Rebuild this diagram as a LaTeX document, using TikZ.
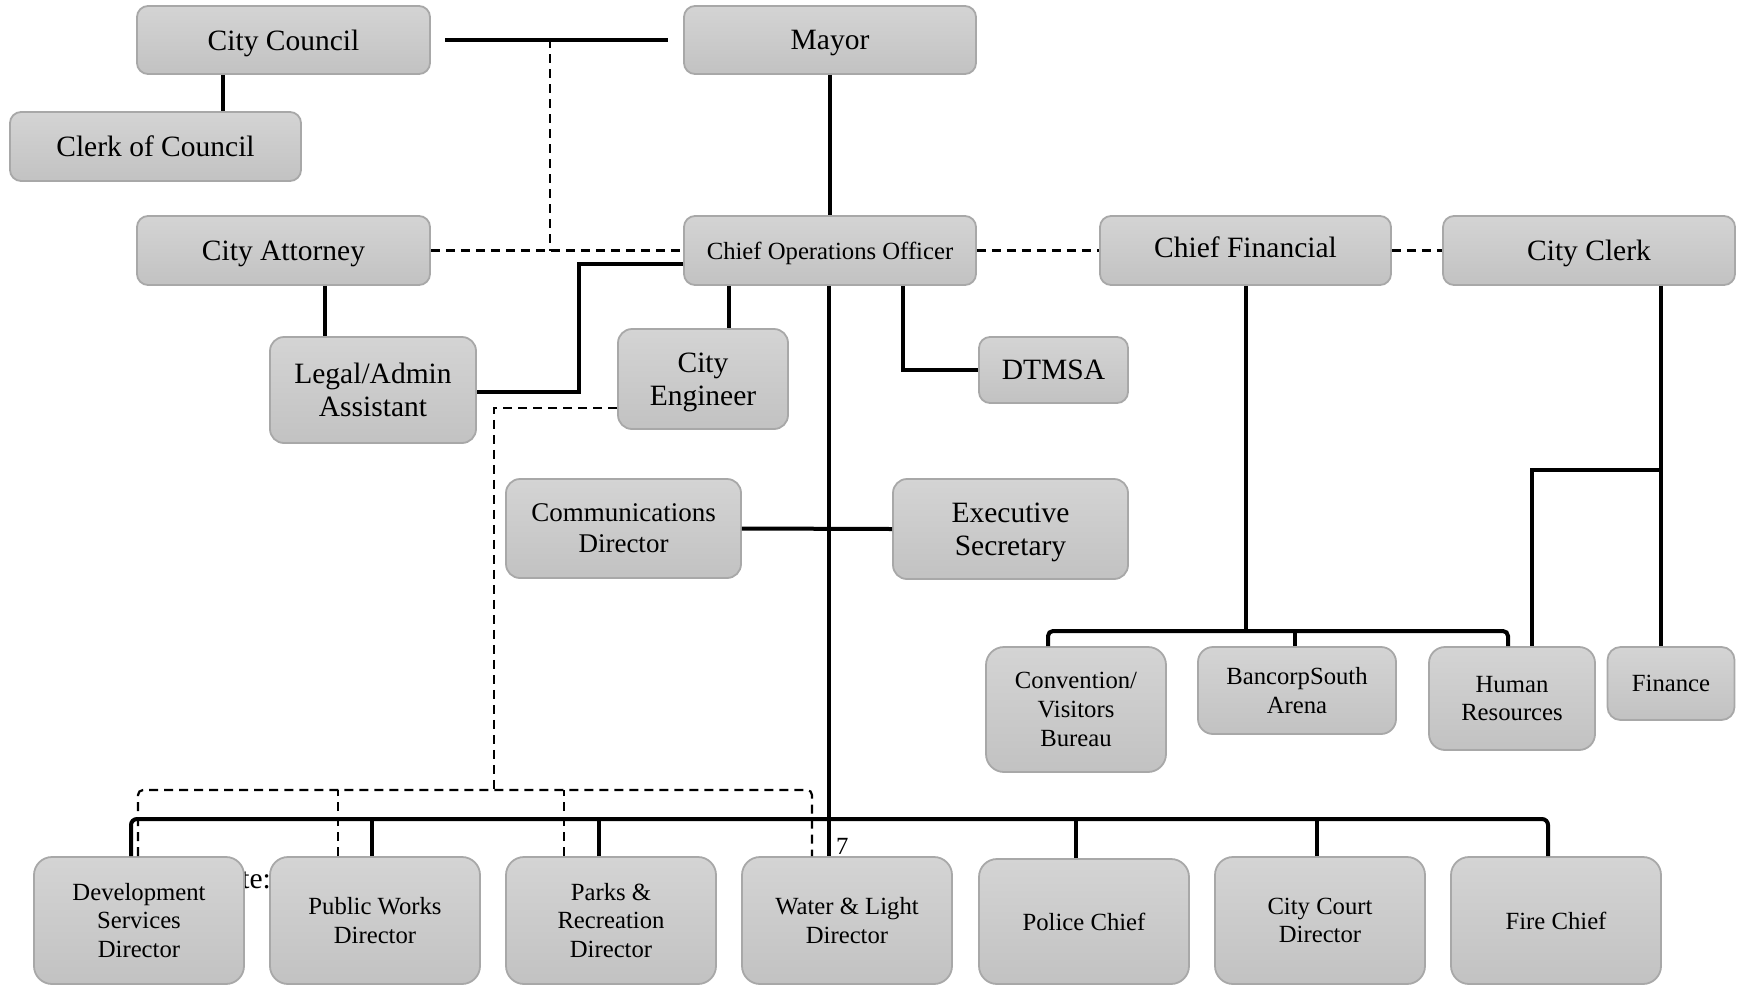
\documentclass[tikz,border=0pt]{standalone}
\usepackage{fontspec}
\setmainfont{Liberation Serif}
\usetikzlibrary{calc}

\definecolor{boxtop}{HTML}{D4D4D4}
\definecolor{boxbot}{HTML}{C2C2C2}
\definecolor{boxedge}{HTML}{A8A8A8}

\tikzset{
  orgbox/.style={draw=boxedge, line width=1.8pt, rounded corners=11pt, top color=boxtop, bottom color=boxbot, align=center, inner sep=0pt},
  bigtxt/.style={font=\fontsize{29.5}{33.5}\selectfont},
  midtxt/.style={font=\fontsize{27}{31}\selectfont},
  smalltxt/.style={font=\fontsize{24.7}{28.8}\selectfont},
  oneline/.style={text depth=0pt},
  link/.style={line width=4pt},
  dotlink/.style={line width=2.2pt, dash pattern=on 9pt off 6pt},
}

\begin{document}
\begin{tikzpicture}[x=1pt,y=1pt,yscale=-1,xscale=1]
\useasboundingbox (0,0) rectangle (1737,986);

% Text Node (left of public works, partly hidden)
\node[bigtxt, anchor=east, inner sep=0pt] (notetxt) at (271,880) {te:};
\node[smalltxt, anchor=west, inner sep=0pt] (pagenum) at (836,846) {7};

%Shape: top row
\node[orgbox,bigtxt,oneline,minimum width=293pt,minimum height=68pt] (council) at (283.5,40) {City Council};
\node[orgbox,bigtxt,oneline,minimum width=292pt,minimum height=68pt] (mayor) at (830,40) {Mayor};
\node[orgbox,bigtxt,oneline,minimum width=291pt,minimum height=69pt] (clerk) at (155.5,146.5) {Clerk of Council};

%Shape: second row
\node[orgbox,bigtxt,oneline,minimum width=293pt,minimum height=69pt] (attorney) at (283.5,250.5) {City Attorney};
\node[orgbox,smalltxt,oneline,minimum width=292pt,minimum height=69pt] (coo) at (830,250.5) {Chief Operations Officer};
\node[orgbox,bigtxt,minimum width=291pt,minimum height=69pt] (cfo) at (1245.5,250.5) {\raisebox{6pt}{Chief Financial}};
\node[orgbox,bigtxt,oneline,minimum width=292pt,minimum height=69pt] (cityclerk) at (1589,250.5) {City Clerk};

%Shape: under the coo
\node[orgbox,bigtxt,minimum width=206pt,minimum height=106pt,rounded corners=14pt] (legal) at (373,390) {Legal/Admin\\Assistant};
\node[orgbox,bigtxt,oneline,minimum width=170pt,minimum height=100pt,rounded corners=14pt] (engineer) at (703,379) {City\\Engineer};
\node[orgbox,bigtxt,oneline,minimum width=149pt,minimum height=66pt] (dtmsa) at (1053.5,370) {DTMSA};
\node[orgbox,midtxt,minimum width=235pt,minimum height=99pt,rounded corners=14pt] (comm) at (623.5,528.5) {Communications\\Director};
\node[orgbox,bigtxt,oneline,minimum width=235pt,minimum height=100pt,rounded corners=14pt] (exec) at (1010.5,529) {Executive\\Secretary};

%Shape: finance branch
\node[orgbox,smalltxt,minimum width=180pt,minimum height=125pt,rounded corners=18pt] (convention) at (1076,709.5) {Convention/\\Visitors\\Bureau};
\node[orgbox,smalltxt,minimum width=198pt,minimum height=87pt,rounded corners=15pt] (arena) at (1297,690.5) {BancorpSouth\\Arena};
\node[orgbox,smalltxt,minimum width=166pt,minimum height=103pt,rounded corners=16pt] (hr) at (1512,698.5) {Human\\Resources};
\node[orgbox,smalltxt,oneline,minimum width=127pt,minimum height=73pt,rounded corners=13pt] (finance) at (1671,683.5) {Finance};

%Shape: directors row
\node[orgbox,smalltxt,minimum width=210pt,minimum height=127pt,rounded corners=18pt] (devserv) at (139,920.5) {Development\\Services\\Director};
\node[orgbox,smalltxt,minimum width=210pt,minimum height=127pt,rounded corners=18pt] (pubworks) at (375,920.5) {Public Works\\Director};
\node[orgbox,smalltxt,minimum width=210pt,minimum height=127pt,rounded corners=18pt] (parks) at (611,920.5) {Parks \&\\Recreation\\Director};
\node[orgbox,smalltxt,minimum width=210pt,minimum height=127pt,rounded corners=18pt] (water) at (847,920.5) {Water \& Light\\Director};
\node[orgbox,smalltxt,oneline,minimum width=210pt,minimum height=125pt,rounded corners=18pt] (police) at (1084,921.5) {Police Chief};
\node[orgbox,smalltxt,minimum width=210pt,minimum height=127pt,rounded corners=18pt] (court) at (1320,920.5) {City Court\\Director};
\node[orgbox,smalltxt,oneline,minimum width=210pt,minimum height=127pt,rounded corners=18pt] (fire) at (1556,920.5) {Fire Chief};

% bus points
\coordinate (dashtop) at (550,39);
\coordinate (bus) at (829,819);
\coordinate (dashbus) at (494,790);
\coordinate (finbus) at (1246,631);
\coordinate (clerkbr) at (1661,470);

%Straight Lines: council and mayor
\draw[link] (council.east -| 445,0) -- (mayor.west -| 668,0);
\draw[link] (council.south -| 223,0) -- (clerk.north -| 223,0);
\draw[link] (mayor.south) -- (coo.north);
\draw[dotlink] (dashtop) -- (dashtop |- coo.west);

%Straight Lines: second row
\draw[dotlink] (attorney.east) -- (coo.west);
\draw[dotlink] (coo.east) -- (cfo.west);
\draw[dotlink] (cfo.east) -- (cityclerk.west);
\draw[link] (attorney.south -| 325,0) -- (legal.north -| 325,0);
\draw[link] (coo.west |- 0,264) -- (579,264) |- (legal.east |- 0,392);
\draw[link] (coo.south -| 729,0) -- (engineer.north -| 729,0);
\draw[link] (coo.south -| 903,0) |- (dtmsa.west);
\draw[link] (comm.east) -- (exec.west);

%Straight Lines: main trunk and directors bus
\draw[link] (coo.south -| bus) -- (water.north -| bus);
\draw[link, rounded corners=6pt] (devserv.north -| 131,0) |- (bus) -| (fire.north -| 1548,0);
\draw[link] (pubworks.north -| 372,0) -- (bus -| 372,0);
\draw[link] (parks.north -| 599,0) -- (bus -| 599,0);
\draw[link] (police.north -| 1076,0) -- (bus -| 1076,0);
\draw[link] (court.north -| 1317,0) -- (bus -| 1317,0);

%Straight Lines: engineer dashed bus
\draw[dotlink] (engineer.west |- 0,408) -| (dashbus);
\draw[dotlink, rounded corners=5pt] (devserv.north -| 138,0) |- (dashbus) -| (water.north -| 812,0);
\draw[dotlink] (pubworks.north -| 338,0) -- (dashbus -| 338,0);
\draw[dotlink] (parks.north -| 564,0) -- (dashbus -| 564,0);

%Straight Lines: finance branch
\draw[link] (cfo.south -| finbus) -- (finbus);
\draw[link, rounded corners=5pt] (convention.north -| 1048,0) |- (finbus) -| (hr.north -| 1508,0);
\draw[link] (arena.north -| 1295,0) -- (finbus -| 1295,0);
\draw[link] (cityclerk.south -| clerkbr) -- (finance.north -| clerkbr);
\draw[link] (clerkbr) -| (hr.north -| 1532,0);

\end{tikzpicture}
\end{document}
